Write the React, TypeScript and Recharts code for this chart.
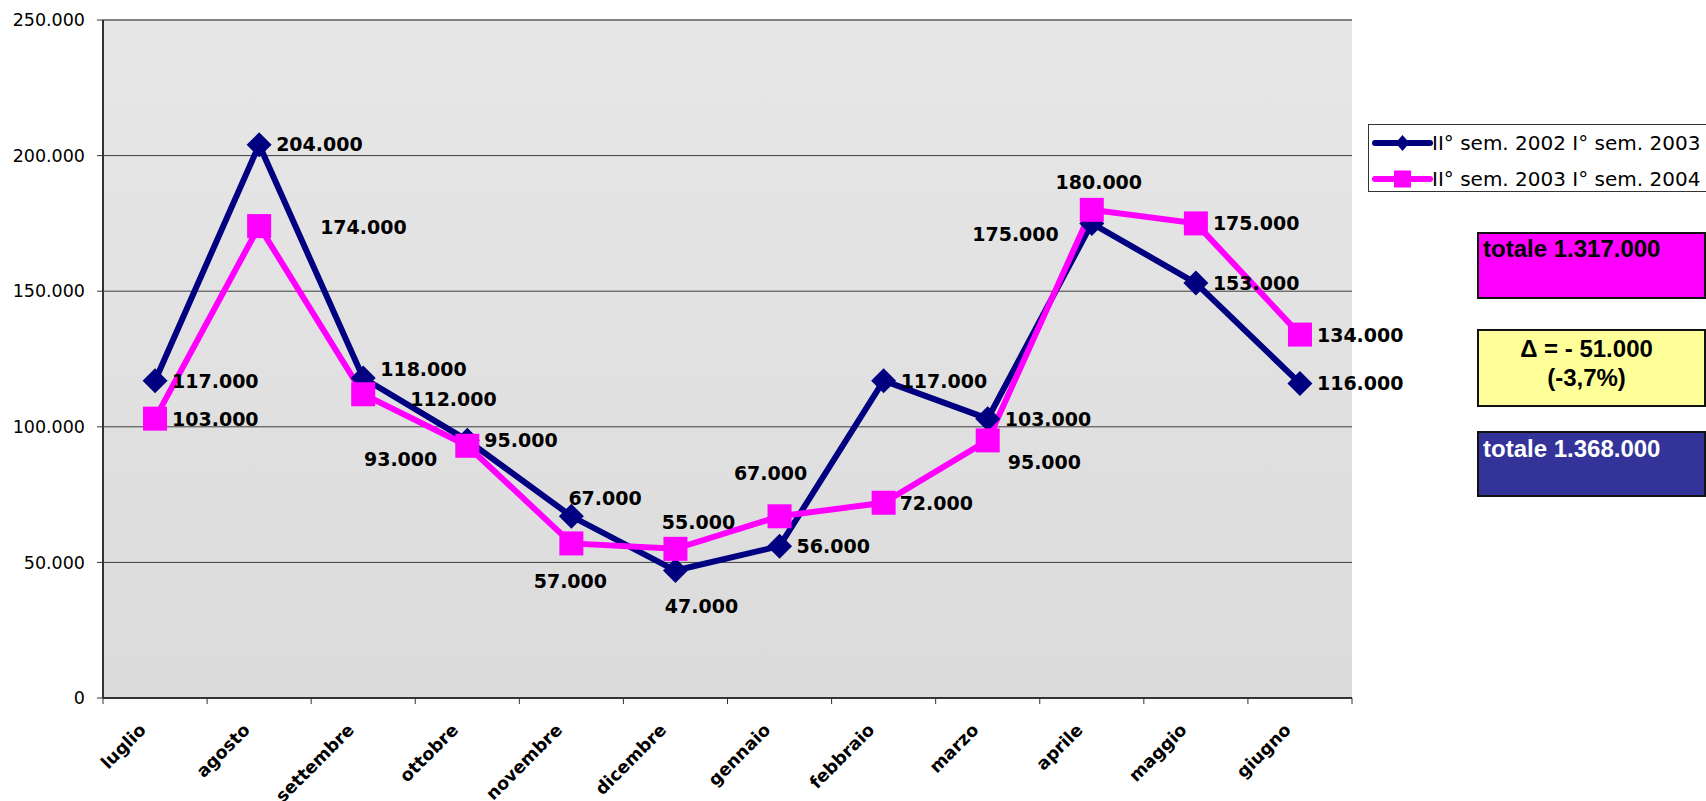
import {
  LineChart,
  Line,
  XAxis,
  YAxis,
  CartesianGrid,
  Legend,
  LabelList,
  ReferenceLine,
} from 'recharts'

const months = [
  'luglio', 'agosto', 'settembre', 'ottobre', 'novembre', 'dicembre',
  'gennaio', 'febbraio', 'marzo', 'aprile', 'maggio', 'giugno',
]
const serie2002 = [117000, 204000, 118000, 95000, 67000, 47000, 56000, 117000, 103000, 175000, 153000, 116000]
const serie2003 = [103000, 174000, 112000, 93000, 57000, 55000, 67000, 72000, 95000, 180000, 175000, 134000]
const yTicks = [0, 50000, 100000, 150000, 200000, 250000]

const name2002 = 'II° sem. 2002 I° sem. 2003'
const name2003 = 'II° sem. 2003 I° sem. 2004'
const totale2002 = 'totale 1.368.000'
const totale2003 = 'totale 1.317.000'
const deltaText = 'Δ = - 51.000'
const deltaPct = '(-3,7%)'

// where each value label sits next to its marker: [anchor, dx, dy]
const labels2002: any[] = [
  ['start', 17, 0], ['start', 17, -1], ['start', 17, -9], ['start', 17, 0],
  ['start', -3, -18], ['middle', 26, 35], ['start', 17, 0], ['start', 17, 0],
  ['start', 17, 0], ['end', -33, 11], ['start', 17, 0], ['start', 17, 0],
]
const labels2003: any[] = [
  ['start', 17, 0], ['start', 61, 1], ['start', 47, 5], ['end', -30, 13],
  ['middle', -1, 38], ['middle', 23, -27], ['middle', -9, -43], ['start', 16, 0],
  ['start', 20, 22], ['middle', 7, -28], ['start', 17, 0], ['start', 17, 0],
]

const NAVY = '#000080'
const PINK = '#ff00ff'
const BAND = (1352 - 103) / 12

const data = months.map((m, i) => ({ month: m, a: serie2002[i], b: serie2003[i] }))

const fmt = (v: number) => String(v).replace(/\B(?=(\d{3})+(?!\d))/g, '.')

function MonthTick({ x, y, payload, index }: any) {
  const axisY = y - 8
  const tx = x - 8
  const ty = y + 25
  return (
    <g>
      <line x1={x - BAND / 2} x2={x - BAND / 2} y1={axisY} y2={axisY + 6} stroke="#333" />
      {index === months.length - 1 && (
        <line x1={x + BAND / 2} x2={x + BAND / 2} y1={axisY} y2={axisY + 6} stroke="#333" />
      )}
      <text
        x={tx}
        y={ty}
        transform={`rotate(-45 ${tx} ${ty})`}
        textAnchor="end"
        fontSize={17.5}
        fontWeight="bold"
        fill="#000"
      >
        {payload.value}
      </text>
    </g>
  )
}

const diamond = (size: number, color: string) => (props: any) => {
  const { cx, cy, index } = props
  return (
    <path
      key={`d${index}`}
      d={`M${cx},${cy - size}L${cx + size},${cy}L${cx},${cy + size}L${cx - size},${cy}Z`}
      fill={color}
    />
  )
}

const square = (size: number, color: string) => (props: any) => {
  const { cx, cy, index } = props
  return <rect key={`s${index}`} x={cx - size} y={cy - size} width={size * 2} height={size * 2} fill={color} />
}

const valueLabel = (placements: any[]) => (props: any) => {
  const { value, index } = props
  const px = props.x ?? props.viewBox?.x
  const py = props.y ?? props.viewBox?.y
  const [anchor, dx, dy] = placements[index]
  return (
    <text
      key={`l${index}`}
      x={px + dx}
      y={py + dy + 7}
      textAnchor={anchor}
      fontSize={19}
      fontWeight="bold"
      fill="#000"
    >
      {fmt(value)}
    </text>
  )
}

function LegendBox() {
  const row = (name: string, color: string, marker: 'diamond' | 'square') => (
    <div style={{ display: 'flex', alignItems: 'center', height: 36 }}>
      <svg width={64} height={24} style={{ flex: 'none' }}>
        <line x1={6} x2={61} y1={12} y2={12} stroke={color} strokeWidth={6} strokeLinecap="round" />
        {marker === 'diamond' ? (
          <path d="M33.5,4L40.5,12L33.5,20L26.5,12Z" fill={color} />
        ) : (
          <rect x={25} y={3.5} width={17} height={17} fill={color} />
        )}
      </svg>
      <span style={{ fontSize: 20, color: '#000', whiteSpace: 'nowrap', marginLeft: -1 }}>{name}</span>
    </div>
  )
  return (
    <div
      style={{
        border: '1.5px solid #333',
        background: '#fff',
        width: 400,
        height: 68,
        boxSizing: 'border-box',
      }}
    >
      {row(name2002, NAVY, 'diamond')}
      {row(name2003, PINK, 'square')}
    </div>
  )
}

const boxBase: any = {
  position: 'absolute',
  left: 1477,
  width: 229,
  boxSizing: 'border-box',
  border: '2px solid #111',
  fontFamily: '"Liberation Sans", Arial, sans-serif',
  fontWeight: 'bold',
  fontSize: 24,
  paddingLeft: 4,
}

export default function App() {
  return (
    <div
      style={{
        position: 'absolute',
        left: 0,
        top: 0,
        width: 1706,
        height: 801,
        overflow: 'hidden',
        background: '#fff',
        fontFamily: '"DejaVu Sans", sans-serif',
      }}
    >
      <LineChart
        width={1706}
        height={801}
        data={data}
        margin={{ top: 20, right: 354, left: 0, bottom: 43 }}
      >
        <defs>
          <linearGradient id="plotBg" x1="0" y1="0" x2="0" y2="1">
            <stop offset="0%" stopColor="#e7e7e7" />
            <stop offset="100%" stopColor="#dbdbdb" />
          </linearGradient>
        </defs>
        <CartesianGrid vertical={false} stroke="#3c3c3c" fill="url(#plotBg)" fillOpacity={1} />
        <XAxis
          dataKey="month"
          interval={0}
          height={60}
          padding={{ left: BAND / 2, right: BAND / 2 }}
          tickSize={6}
          tickMargin={2}
          tickLine={false}
          axisLine={{ stroke: '#333', strokeWidth: 2 }}
          tick={<MonthTick />}
        />
        <YAxis
          width={103}
          domain={[0, 250000]}
          ticks={yTicks}
          tickFormatter={fmt}
          tickSize={6}
          tickMargin={12}
          tickLine={{ stroke: '#333' }}
          axisLine={{ stroke: '#333', strokeWidth: 2 }}
          tick={{ fontSize: 17.5, fill: '#000' }}
        />
        <YAxis
          yAxisId="r"
          orientation="right"
          width={0}
          tick={false}
          tickLine={false}
          axisLine={{ stroke: '#808080', strokeWidth: 2 }}
        />
        <ReferenceLine y={250000} stroke="#808080" strokeWidth={2} />
        <Legend
          layout="vertical"
          align="center"
          verticalAlign="middle"
          content={() => <LegendBox />}
          wrapperStyle={{ position: 'absolute', left: 1368, top: 124, width: 400, height: 68 }}
        />
        <Line
          dataKey="a"
          name={name2002}
          stroke={NAVY}
          strokeWidth={6}
          dot={diamond(12.5, NAVY)}
          activeDot={false}
          isAnimationActive={false}
        />
        <Line
          dataKey="b"
          name={name2003}
          stroke={PINK}
          strokeWidth={6}
          dot={square(12, PINK)}
          activeDot={false}
          isAnimationActive={false}
        />
        <Line
          dataKey="a"
          stroke="none"
          dot={false}
          activeDot={false}
          legendType="none"
          isAnimationActive={false}
        >
          <LabelList dataKey="a" content={valueLabel(labels2002)} />
        </Line>
        <Line
          dataKey="b"
          stroke="none"
          dot={false}
          activeDot={false}
          legendType="none"
          isAnimationActive={false}
        >
          <LabelList dataKey="b" content={valueLabel(labels2003)} />
        </Line>
      </LineChart>

      <div style={{ ...boxBase, top: 232, height: 67, background: PINK, color: '#000', paddingTop: 1 }}>
        {totale2003}
      </div>
      <div
        style={{
          ...boxBase,
          top: 329,
          height: 78,
          background: '#ffff99',
          color: '#000',
          textAlign: 'center',
          paddingLeft: 0,
          paddingRight: 10,
          paddingTop: 3,
          lineHeight: '29px',
        }}
      >
        <div>{deltaText}</div>
        <div>{deltaPct}</div>
      </div>
      <div style={{ ...boxBase, top: 431, height: 66, background: '#333399', color: '#fff', paddingTop: 2 }}>
        {totale2002}
      </div>
    </div>
  )
}
